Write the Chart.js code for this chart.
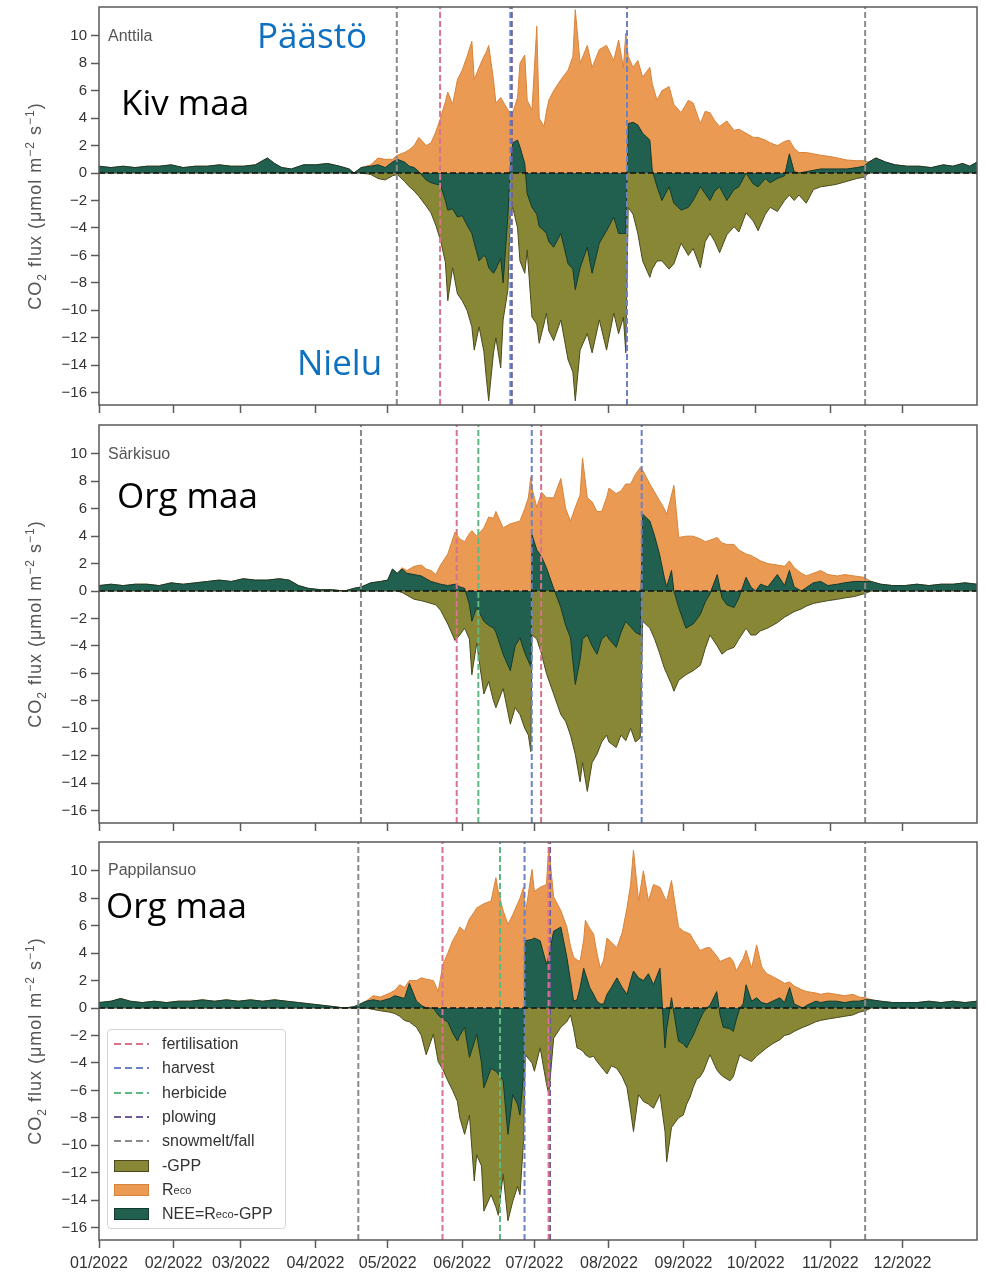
<!DOCTYPE html>
<html>
<head>
<meta charset="utf-8">
<script src="https://cdn.jsdelivr.net/npm/chart.js@4.4.1/dist/chart.umd.min.js"></script>
<style>
  body { margin: 0; background: #fff; width: 986px; height: 1272px; position: relative; overflow: hidden;
         font-family: "Liberation Sans", Arial, sans-serif; }
  canvas { position: absolute; left: 0; }
  .site { position: absolute; left: 108px; font-size: 16px; line-height: 1; color: #555; }
  .ytitle { position: absolute; left: 35px; transform: translate(-50%, -50%) rotate(-90deg);
            font-size: 18px; letter-spacing: 1px; color: #555; white-space: nowrap; line-height: 1; }
  .ytitle sub, .ytitle sup { font-size: 12px; line-height: 0; }
  .note { position: absolute; font-family: "Open Sans", sans-serif; font-size: 35px; line-height: 1; color: #000; white-space: nowrap; }
  .note.blue { color: #0f70c0; }
  #legend { position: absolute; left: 107px; top: 1029px; width: 179px; height: 200px; box-sizing: border-box;
            border: 1px solid #d4d4d4; border-radius: 4px; background: rgba(255,255,255,.85); padding-top: 2px; }
  #legend .row { height: 24.3px; display: flex; align-items: center; font-size: 16px; color: #333; white-space: nowrap; }
  #legend .key { width: 35px; margin: 0 13px 0 6px; display: flex; align-items: center; }
  #legend .patch { width: 33px; height: 10px; border: 1px solid; }
  #legend sub { font-size: 11px; vertical-align: -4px; line-height: 0; }
</style>
</head>
<body>
<canvas id="c1" width="986" height="420" style="top:0px"></canvas>
<canvas id="c2" width="986" height="420" style="top:418px"></canvas>
<canvas id="c3" width="986" height="437" style="top:835px"></canvas>

<div class="ytitle" style="top:206px">CO<sub>2</sub> flux (μmol m<sup>−2</sup> s<sup>−1</sup>)</div>
<div class="ytitle" style="top:624px">CO<sub>2</sub> flux (μmol m<sup>−2</sup> s<sup>−1</sup>)</div>
<div class="ytitle" style="top:1041px">CO<sub>2</sub> flux (μmol m<sup>−2</sup> s<sup>−1</sup>)</div>

<div class="site" style="top:28px">Anttila</div>
<div class="site" style="top:446px">Särkisuo</div>
<div class="site" style="top:862px">Pappilansuo</div>

<div class="note blue" style="left:257px;top:17px">Päästö</div>
<div class="note" style="left:121px;top:84px">Kiv maa</div>
<div class="note blue" style="left:297px;top:344px">Nielu</div>
<div class="note" style="left:117px;top:477px">Org maa</div>
<div class="note" style="left:106px;top:887px">Org maa</div>

<div id="legend"></div>

<script>
/* CO2-vuot kolmella lohkolla 2022 — päiväsarjat luettu kuvasta (x = päivä vuoden alusta) */

const MONTH_DAYS = [0, 31, 59, 90, 120, 151, 181, 212, 243, 273, 304, 334];
const MONTH_LABELS = ['01/2022', '02/2022', '03/2022', '04/2022', '05/2022', '06/2022',
                      '07/2022', '08/2022', '09/2022', '10/2022', '11/2022', '12/2022'];
const Y_TICKS = [-16, -14, -12, -10, -8, -6, -4, -2, 0, 2, 4, 6, 8, 10];
const Y_MIN = -16.9, Y_MAX = 12.1;

/* ---- Anttila (kivennäismaa) ---- */
const ANT_DAY = [0,5,10,15,20,25,30,35,40,45, 50,55,60,65,70,73,76,80,85,90,
  95,100,104,106,109,113,116,119,122,124, 127,129,131,133,136,138,140,142,144,145,
  147,149,151,153,155,156,158,160,161,162, 164,165,167,168,170,171,172,174,175,177,
  178,180,182,183,185,186,187,189,192,195, 197,198,200,203,205,208,211,214,216,218,
  219,220,222,224,226,229,230,232,234,237, 239,242,245,247,250,252,254,256,258,261,
  264,266,269,272,274,277,279,282,285,287, 289,291,294,297,300,304,307,311,315,318,
  320,323,327,331,336,341,346,351,355,359, 362,365];
const ANT_RECO = [.5,.4,.5,.4,.5,.5,.6,.4,.5,.5, .6,.5,.5,.6,1.1,.7,.4,.3,.6,.6,
  .7,.5,.3,0,.4,.6,1.1,1.0,1.0,1.3, 1.5,1.7,2.0,2.6,2.0,2.2,3.0,4.0,5.2,5.9,
  5.0,6.8,7.5,8.5,9.6,6.8,7.7,8.5,8.8,9.3, 6.8,5.1,5.5,5.2,4.6,4.4,4.4,5.5,8.0,8.6,
  5.3,4.6,10.7,4.0,3.4,4.5,5.3,6.0,6.8,7.5, 8.5,11.9,8.0,9.3,7.7,9.0,9.3,8.2,9.7,7.7,
  10.2,8.5,7.7,8.2,7.0,7.7,6.5,5.3,6.0,6.3, 5.0,4.4,5.3,5.1,3.6,4.5,4.4,3.8,3.4,3.8,
  3.1,3.2,2.9,2.6,2.6,2.4,2.2,2.0,2.3,2.4, 1.8,1.5,1.5,1.4,1.3,1.2,1.1,.95,.9,.9,
  .8,1.1,.8,.6,.5,.5,.4,.6,.5,.7, .5,.8];
const ANT_GPP = [0,0,0,0,0,0,0,0,0,0, 0,0,0,0,0,0,0,0,0,0,
  0,0,0,0,0,-.1,-.4,-.5,-.2,-.1, -.6,-1.0,-1.3,-1.7,-2.4,-2.9,-3.8,-4.9,-6.5,-9.3,
  -6.9,-8.8,-9.3,-10.0,-11.2,-12.9,-11.2,-13.0,-14.9,-16.6, -13.1,-12.0,-14.2,-10.7,-8.5,-3.0,-2.5,-4.0,-6.4,-7.3,
  -5.6,-10.5,-11.0,-12.4,-11.0,-10.2,-11.5,-12.2,-10.7,-13.6, -14.5,-16.6,-12.9,-11.7,-13.1,-10.7,-12.9,-10.2,-11.7,-10.5,
  -13.1,-2.5,-3.0,-4.4,-6.4,-7.6,-7.0,-6.4,-6.4,-7.0, -6.6,-5.1,-6.0,-5.5,-6.9,-5.0,-4.4,-5.0,-5.8,-4.5,
  -3.9,-4.3,-2.9,-3.5,-4.2,-3.0,-2.5,-2.8,-2.0,-1.6, -2.0,-1.6,-2.2,-1.2,-1.0,-.9,-.8,-.6,-.4,-.3,
  0,0,0,0,0,0,0,0,0,0, 0,0];
const ANT_NEE = [.5,.4,.5,.4,.5,.5,.6,.4,.5,.5, .6,.5,.5,.6,1.1,.7,.4,.3,.6,.6,
  .7,.5,.3,0,.4,.5,.6,.4,.8,1.0, .8,.5,.4,.1,-.5,-.7,-.8,-.9,-2.0,-2.7,
  -2.6,-3.2,-3.1,-3.8,-4.4,-5.1,-6.4,-6.0,-6.2,-6.9, -7.3,-7.0,-6.2,-8.0,-3.1,.5,2.2,2.4,1.9,.7,
  -1.5,-2.5,-3.0,-3.9,-4.2,-4.4,-5.0,-5.4,-4.4,-6.6, -7.0,-8.5,-6.9,-5.4,-7.3,-5.1,-4.2,-3.2,-4.4,-4.4,
  -4.4,3.6,3.7,3.5,2.9,2.4,.2,-1.0,-2.0,-1.0, -2.2,-2.7,-2.5,-2.0,-1.0,-1.5,-2.0,-1.3,-1.0,-2.0,
  -1.2,-1.0,0,-.8,-1.0,-.4,-.7,-.4,-.2,1.4, .1,0,.1,.2,.3,.3,.3,.3,.4,.5,
  .8,1.1,.8,.6,.5,.5,.4,.6,.5,.7, .5,.8];
const ANT_EVENTS = [['snow', 123.8], ['fert', 141.8], ['harvest', 171], ['plow', 171.6],
                    ['harvest', 219.5], ['snow', 318.5]];

/* ---- Särkisuo (turvemaa) ---- */
const SAR_DAY = [0,5,10,15,20,25,30,35,40,45, 50,55,60,65,70,75,79,83,87,92,
  97,102,106,109,113,117,120,122,124,126, 128,131,134,136,138,140,142,145,148,150,
  152,154,155,157,160,162,164,165,168,171, 173,175,177,178.5,179.5,180,182,184,186,189,
  192,194,196,198,200,201,203,205,207,209, 211,212,215,217,219,221,223,225,226,229,
  231,233,235,236,238,239,241,244,247,250, 252,254,257,259,261,264,266,269,271,273,
  275,278,282,285,287,289,292,294,297,300, 303,307,310,314,318,321,325,330,335,340,
  345,350,355,360,365];
const SAR_RECO = [.4,.5,.4,.5,.5,.4,.6,.5,.6,.7, .8,.7,.9,.8,.8,.9,.8,.4,.2,.1,
  .1,0,.2,.3,.6,.7,.8,1.6,1.3,1.7, 1.5,1.8,1.9,1.6,1.5,1.2,1.9,2.7,4.3,3.8,
  3.6,4.2,4.4,4.0,4.6,5.4,5.3,5.8,4.6,4.9, 5.0,5.1,6.0,6.8,8.3,7.5,6.1,7.2,6.8,6.8,
  8.2,6.0,5.1,6.1,7.0,9.7,6.8,6.5,5.8,5.8, 6.8,7.5,7.1,7.3,7.8,7.8,8.5,9.0,8.8,7.8,
  7.2,6.6,6.0,5.6,7.0,7.7,3.9,4.0,4.0,3.8, 3.6,3.7,3.9,3.5,3.4,3.4,3.0,2.7,2.6,2.4,
  2.2,2.0,1.9,1.8,2.2,1.7,1.3,1.1,1.3,1.5, 1.2,1.1,1.2,1.1,1.0,.7,.5,.4,.4,.5,
  .4,.5,.5,.6,.5];
const SAR_GPP = [0,0,0,0,0,0,0,0,0,0, 0,0,0,0,0,0,0,0,0,0,
  0,0,0,0,0,0,0,0,0,-.1, -.3,-.6,-.7,-.8,-.9,-1.0,-1.4,-2.4,-3.6,-3.2,
  -2.7,-3.5,-6.1,-3.8,-7.5,-6.6,-8.0,-8.5,-7.1,-9.7, -8.5,-9.0,-10.0,-10.5,-11.7,-3.2,-3.5,-4.6,-6.0,-7.5,
  -9.0,-9.5,-10.5,-11.9,-13.9,-12.5,-14.6,-12.5,-11.9,-11.0, -10.5,-11.0,-11.4,-10.5,-10.9,-10.0,-11.0,-10.7,-2.2,-2.7,
  -3.5,-4.5,-5.6,-6.0,-6.8,-7.3,-6.5,-6.1,-5.8,-5.4, -4.2,-3.2,-4.0,-4.6,-4.3,-4.1,-3.5,-2.7,-3.2,-3.2,
  -2.9,-2.7,-2.3,-1.9,-1.7,-1.5,-1.3,-1.1,-.9,-.8, -.7,-.6,-.5,-.4,-.2,0,0,0,0,0,
  0,0,0,0,0];
const SAR_NEE = [.4,.5,.4,.5,.5,.4,.6,.5,.6,.7, .8,.7,.9,.8,.8,.9,.8,.4,.2,.1,
  .1,0,.2,.3,.6,.7,.8,1.6,1.3,1.6, 1.3,1.2,1.1,.9,.7,.6,.5,.4,.5,.3,
  .2,-1.0,-2.2,-1.2,-2.2,-2.5,-2.7,-3.0,-4.6,-5.8, -4.0,-3.4,-4.5,-5.1,-5.5,4.1,3.0,2.5,1.7,.2,
  -1.2,-2.5,-3.4,-6.8,-5.0,-3.5,-3.2,-4.0,-4.6,-3.5, -3.2,-3.5,-4.1,-3.0,-2.2,-2.6,-3.0,-3.2,5.6,5.1,
  4.0,2.7,1.0,.3,1.5,0,-1.2,-2.7,-2.4,-1.7, -.8,-.2,1.2,-.5,-1.0,-1.2,-.5,1.0,.3,0,
  .5,.3,1.2,.4,1.5,.3,0,.25,.6,.7, .4,.5,.6,.7,.7,.7,.5,.4,.4,.5,
  .4,.5,.5,.6,.5];
const SAR_EVENTS = [['snow', 108.9], ['fert', 148.7], ['herb', 157.7], ['harvest', 179.9],
                    ['fert', 183.8], ['harvest', 225.6], ['snow', 318.5]];

/* ---- Pappilansuo (turvemaa) ---- */
const PAP_DAY = [0,5,9,13,18,23,28,33,38,43, 48,53,58,63,68,73,78,83,88,93,
  98,102,106,108,111,114,117,121,123,125, 127,129,132,134,136,139,141,143,145,147,
  149,150,152,154,156,157,159,160,163,165, 166,168,170,172,174,175,176.5,177.2,180,181,
  183.4,186,187,189,192,194.5,196,197.3,198.7,200, 201.5,202.2,204,205.6,207,208.4,209.8,211.2,213,215.3,
  217.5,219.5,221,222.2,224.3,226.3,228.4,230.5,233.2,235.3, 236,238,240.9,242.9,244.3,245.7,247,248.4,249.9,251.3,
  252.6,254,256.8,258.2,259.5,262.3,263.7,265,266.4,267.8, 269,271.3,273.4,275.5,277.6,280,283.1,285,287.1,289,
  292.6,294.2,298,300,303,306.5,310,313.4,316,318.5, 321,325,330,335,340,345,350,355,360,365];
const PAP_RECO = [.4,.5,.7,.5,.4,.5,.4,.5,.5,.6, .5,.6,.5,.6,.5,.6,.5,.4,.3,.2,
  .1,0,.1,.25,.5,.9,.8,1.1,1.3,1.7, 1.5,2.0,2.0,2.2,2.1,2.0,1.2,3.2,4.0,4.9,
  5.5,5.9,5.6,6.5,7.0,7.3,7.5,7.6,7.8,9.5, 8.5,7.1,6.1,6.8,7.6,8.0,8.8,6.8,10.1,8.5,
  8.8,9.0,11.7,8.1,7.1,5.9,4.5,3.7,3.5,3.4, 5.0,6.4,5.8,5.4,4.0,2.9,3.5,5.1,4.8,4.4,
  5.5,7.3,9.0,11.5,7.8,10.0,7.8,9.0,8.8,8.0, 7.8,9.3,5.9,5.6,5.5,5.4,5.0,4.6,4.2,4.3,
  4.4,4.4,3.8,3.4,3.5,3.7,3.4,2.7,3.2,3.6, 4.2,2.9,4.6,3.0,2.5,2.3,2.0,1.8,1.9,1.6,
  1.3,1.2,1.1,1.0,1.1,1.0,.9,1.0,.8,.75, .6,.5,.4,.4,.4,.5,.4,.5,.4,.5];
const PAP_GPP = [0,0,0,0,0,0,0,0,0,0, 0,0,0,0,0,0,0,0,0,0,
  0,0,0,0,0,-.1,-.2,-.3,-.4,-.6, -.9,-1.0,-1.4,-2.0,-3.4,-1.9,-3.9,-4.5,-5.3,-6.0,
  -6.8,-8.0,-9.2,-7.8,-12.6,-10.7,-11.5,-14.8,-13.6,-14.5, -15.1,-12.1,-15.5,-14.1,-13.0,-13.6,-9.7,-3.4,-4.0,-4.6,
  -2.9,-5.5,-6.3,-2.2,-1.4,-1.0,-.5,-1.5,-2.9,-3.0, -3.2,-3.4,-3.6,-3.5,-3.9,-4.2,-4.5,-4.8,-4.2,-4.4,
  -5.0,-5.8,-7.5,-9.0,-6.3,-6.8,-7.0,-7.3,-6.3,-9.0, -11.2,-8.7,-8.0,-7.8,-7.0,-6.5,-5.8,-5.2,-5.0,-4.6,
  -4.0,-3.4,-4.5,-4.8,-5.0,-5.3,-5.0,-4.2,-3.4,-3.6, -3.7,-3.9,-3.5,-3.2,-2.9,-2.6,-2.3,-2.0,-1.9,-1.7,
  -1.4,-1.3,-1.0,-.9,-.8,-.7,-.6,-.5,-.3,-.2, 0,0,0,0,0,0,0,0,0,0];
const PAP_NEE = [.4,.5,.7,.5,.4,.5,.4,.5,.5,.6, .5,.6,.5,.6,.5,.6,.5,.4,.3,.2,
  .1,0,.1,.25,.5,.6,.5,.7,.9,.8, .7,1.8,.5,.2,0,0,-.5,-.8,-1.0,-1.8,
  -2.4,-2.0,-1.4,-3.6,-2.5,-1.9,-4.0,-5.8,-4.4,-4.6, -4.8,-5.3,-9.2,-6.3,-7.0,-7.8,-4.8,4.9,5.0,5.1,
  4.9,3.2,3.8,5.6,5.9,3.7,2.0,.5,.6,1.5, 2.9,2.5,1.5,1.0,.5,.3,.3,1.0,1.5,2.2,
  1.5,1.0,2.0,2.7,2.2,2.0,2.5,1.7,2.9,-2.9, -1.5,.75,-2.4,-2.6,-2.9,-2.4,-2.0,-1.4,-.8,-.3,
  0,.2,1.2,-.5,-1.4,-1.5,-1.7,-.8,0,.3, 1.7,.5,.75,.4,.3,.5,.75,.4,1.5,.3,
  0,.2,.5,.4,.5,.5,.4,.5,.5,.6, .6,.5,.4,.4,.4,.5,.4,.5,.4,.5];
const PAP_EVENTS = [['snow', 107.8], ['fert', 142.8], ['herb', 166.7], ['harvest', 176.9],
                    ['fert', 186.9], ['plow', 187.5], ['snow', 318.5]];

const LEGEND_LINES = [['fert', 'fertilisation'], ['harvest', 'harvest'], ['herb', 'herbicide'],
                      ['plow', 'plowing'], ['snow', 'snowmelt/fall']];
const LEGEND_AREAS = [['gpp', '-GPP'], ['reco', 'R<sub>eco</sub>'], ['nee', 'NEE=R<sub>eco</sub>-GPP']];

/* tyylit */
const EVENT_COLOR = { fert: '#d9738e', harvest: '#6b82c6', herb: '#5fb882', plow: '#6f5a98', snow: '#8a8a8a' };
const AREA = {
  reco: { fill: '#ea9a52', edge: '#d8833a' },
  gpp:  { fill: '#878735', edge: '#4a4a1c' },
  nee:  { fill: '#21604f', edge: '#123a2f' },
};
const TXT = '#333', AXC = '#5a5a5a';

const frame = {
  id: 'frame',
  afterDraw(c) {
    const { ctx, chartArea: a } = c;
    ctx.save();
    ctx.strokeStyle = AXC; ctx.lineWidth = 1.5;
    ctx.strokeRect(a.left, a.top, a.right - a.left, a.bottom - a.top);
    ctx.restore();
  },
};

// akselien omat reunukset pois, jotta piirtoalue pysyy paikallaan
const noPad = s => { s.paddingTop = 0; s.paddingBottom = 0; s.paddingLeft = 0; s.paddingRight = 0; };

function panel(id, days, reco, gpp, nee, events, showDates) {
  const pts = vals => days.map((d, i) => ({ x: d, y: vals[i] }));
  const area = (vals, k) => ({
    data: pts(vals), fill: 'origin', backgroundColor: AREA[k].fill,
    borderColor: AREA[k].edge, borderWidth: 1, pointRadius: 0, tension: 0,
  });
  const vline = ([k, d]) => ({
    data: [{ x: d, y: Y_MIN }, { x: d, y: Y_MAX }], borderColor: EVENT_COLOR[k],
    borderWidth: 2, borderDash: [6, 3], pointRadius: 0, fill: false,
  });
  // ensimmäinen datasetti piirtyy päällimmäiseksi
  const datasets = [
    ...events.map(vline),
    { data: [{ x: 0, y: 0 }, { x: 365, y: 0 }], borderColor: '#111', borderWidth: 1.5,
      borderDash: [6, 3], pointRadius: 0, fill: false },
    area(nee, 'nee'),
    area(reco, 'reco'),
    area(gpp, 'gpp'),
  ];
  const grid = { drawOnChartArea: false, drawTicks: true, tickLength: 8, tickColor: AXC, tickWidth: 1.5 };
  new Chart(document.getElementById(id), {
    type: 'line',
    data: { datasets },
    plugins: [frame],
    options: {
      responsive: false, animation: false, events: [],
      layout: { padding: { left: 0, right: 9, top: 7, bottom: 0 } },
      plugins: { legend: { display: false }, tooltip: { enabled: false } },
      scales: {
        x: {
          type: 'linear', min: 0, max: 365,
          afterBuildTicks: s => { s.ticks = MONTH_DAYS.map(v => ({ value: v })); },
          afterFit: s => { s.height = showDates ? 32 : 15; noPad(s); },
          grid, border: { display: false },
          ticks: { display: showDates, autoSkip: false, maxRotation: 0, padding: 6, color: TXT,
                   font: { size: 16, family: 'Liberation Sans' }, callback: (v, i) => MONTH_LABELS[i] },
        },
        y: {
          min: Y_MIN, max: Y_MAX,
          afterBuildTicks: s => { s.ticks = Y_TICKS.map(v => ({ value: v })); },
          afterFit: s => { s.width = 99; noPad(s); },
          grid, border: { display: false },
          ticks: { padding: 4, color: TXT, font: { size: 15, family: 'Liberation Sans' },
                   callback: v => v < 0 ? '\u2212' + Math.abs(v) : String(v) },
        },
      },
    },
  });
}

panel('c1', ANT_DAY, ANT_RECO, ANT_GPP, ANT_NEE, ANT_EVENTS, false);
panel('c2', SAR_DAY, SAR_RECO, SAR_GPP, SAR_NEE, SAR_EVENTS, false);
panel('c3', PAP_DAY, PAP_RECO, PAP_GPP, PAP_NEE, PAP_EVENTS, true);

/* selite alimpaan paneeliin */
const dash = c => `<svg width="35" height="4"><line x1="0" y1="2" x2="35" y2="2" stroke="${c}" stroke-width="2" stroke-dasharray="7,4"/></svg>`;
document.getElementById('legend').innerHTML =
  LEGEND_LINES.map(([k, t]) => `<div class="row"><span class="key">${dash(EVENT_COLOR[k])}</span>${t}</div>`).join('') +
  LEGEND_AREAS.map(([k, t]) => `<div class="row"><span class="key"><span class="patch" style="background:${AREA[k].fill};border-color:${AREA[k].edge}"></span></span>${t}</div>`).join('');
</script>
</body>
</html>
